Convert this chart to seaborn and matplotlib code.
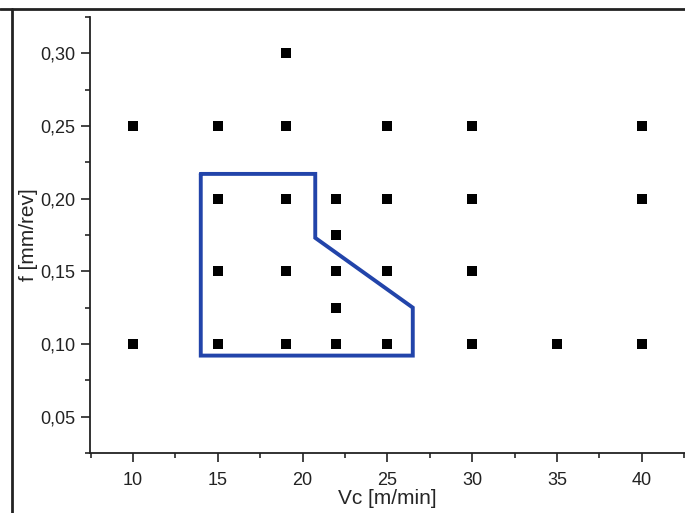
import pandas as pd
import seaborn as sns
import matplotlib.pyplot as plt
from matplotlib.lines import Line2D
from matplotlib.ticker import MultipleLocator, FuncFormatter

# Test points (cutting speed vs feed)
vc = [19,
      10, 15, 19, 25, 30, 40,
      15, 19, 22, 25, 30, 40,
      22,
      15, 19, 22, 25, 30,
      22,
      10, 15, 19, 22, 25, 30, 35, 40]
feed = [0.30,
        0.25, 0.25, 0.25, 0.25, 0.25, 0.25,
        0.20, 0.20, 0.20, 0.20, 0.20, 0.20,
        0.175,
        0.15, 0.15, 0.15, 0.15, 0.15,
        0.125,
        0.10, 0.10, 0.10, 0.10, 0.10, 0.10, 0.10, 0.10]

# Outline of the selected region
poly_vc = [14, 20.75, 20.75, 26.5, 26.5, 14, 14]
poly_f = [0.217, 0.217, 0.173, 0.125, 0.092, 0.092, 0.217]

df = pd.DataFrame({'Vc': vc, 'f': feed})

sns.set_style('ticks')
plt.rcParams['font.family'] = ['Liberation Sans', 'DejaVu Sans']

fig = plt.figure(figsize=(6.85, 5.13), dpi=100)
ax = fig.add_axes([0.1314, 0.117, 0.8686, 0.850])

sns.scatterplot(data=df, x='Vc', y='f', marker='s', color='black', s=50,
                edgecolor='black', linewidth=0, ax=ax, zorder=3)
ax.plot(poly_vc, poly_f, color='#2244aa', linewidth=2.8, solid_joinstyle='miter', zorder=2)

ax.set_xlim(7.47, 42.55)
ax.set_ylim(0.025, 0.325)
ax.xaxis.set_major_locator(MultipleLocator(5))
ax.xaxis.set_minor_locator(MultipleLocator(2.5))
ax.yaxis.set_major_locator(MultipleLocator(0.05))
ax.yaxis.set_minor_locator(MultipleLocator(0.025))
ax.yaxis.set_major_formatter(FuncFormatter(lambda v, p: f'{v:.2f}'.replace('.', ',')))

ax.tick_params(which='major', length=6.5, width=1.2, pad=4, labelsize=13, colors='#222222')
ax.tick_params(axis='x', which='major', pad=7)
ax.tick_params(which='minor', length=3.5, width=1.2)
for s in ['left', 'bottom']:
    ax.spines[s].set_linewidth(1.3)
    ax.spines[s].set_color('#222222')
sns.despine(ax=ax)

ax.set_xlabel('Vc [m/min]', fontsize=15, labelpad=0)
ax.set_ylabel('f [mm/rev]', fontsize=15, labelpad=2)

# frame lines at top and left of the figure
fig.add_artist(Line2D([0, 1], [0.982, 0.982], color='#222222', linewidth=2, transform=fig.transFigure))
fig.add_artist(Line2D([0.0175, 0.0175], [0, 0.982], color='#222222', linewidth=2, transform=fig.transFigure))

fig.savefig('out.png', dpi=100)
